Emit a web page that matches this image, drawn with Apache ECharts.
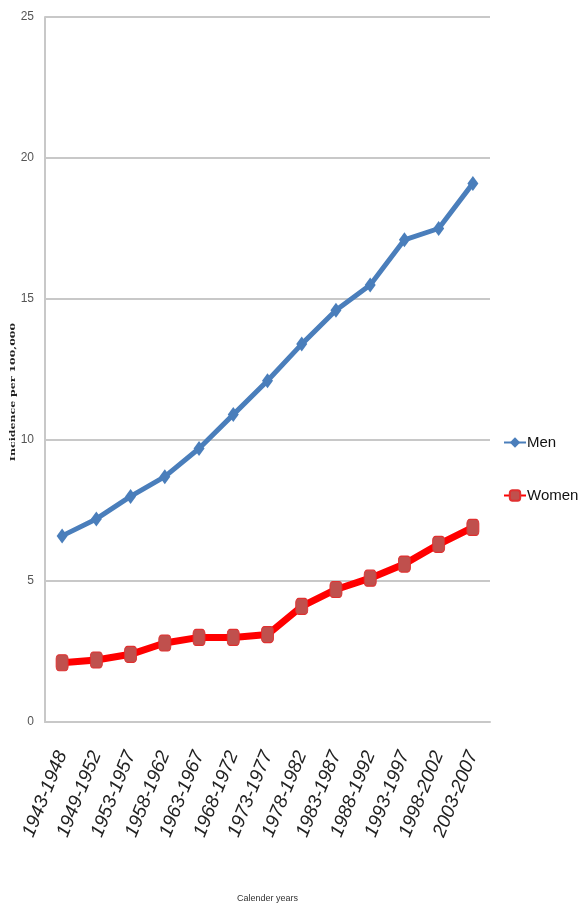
<!DOCTYPE html>
<html>
<head>
<meta charset="utf-8">
<script src="https://cdn.jsdelivr.net/npm/echarts@6/dist/echarts.min.js"></script>
<style>
  html, body { margin: 0; padding: 0; background: #fff; }
  #chart { width: 579px; height: 908px; }
</style>
</head>
<body>
<div id="chart"></div>
<script>
// Five-year calendar periods
const periods = ['1943-1948', '1949-1952', '1953-1957', '1958-1962', '1963-1967', '1968-1972',
  '1973-1977', '1978-1982', '1983-1987', '1988-1992', '1993-1997', '1998-2002', '2003-2007'];

// Incidence per 100,000
const men = [6.6, 7.2, 8.0, 8.7, 9.7, 10.9, 12.1, 13.4, 14.6, 15.5, 17.1, 17.5, 19.1];
const women = [2.1, 2.2, 2.4, 2.8, 3.0, 3.0, 3.1, 4.1, 4.7, 5.1, 5.6, 6.3, 6.9];

const yTicks = [0, 5, 10, 15, 20, 25];

const sans = '"Liberation Sans", Arial, sans-serif';

const chart = echarts.init(document.getElementById('chart'));
chart.setOption({
  animation: false,
  backgroundColor: '#ffffff',
  grid: { left: 45, right: 89, top: 17, bottom: 186, containLabel: false, outerBoundsMode: 'none' },
  legend: {
    orient: 'vertical',
    left: 498,
    top: 430,
    itemGap: 38,
    itemWidth: 22,
    itemHeight: 13,
    textStyle: { fontFamily: sans, fontSize: 15, color: '#111', padding: [0, 0, 0, -4] },
    data: ['Men', 'Women']
  },
  // vertical axis title, drawn thin and tall
  graphic: [{
    type: 'text',
    x: 13,
    y: 392,
    rotation: Math.PI / 2,
    scaleY: 0.7,
    style: {
      text: 'Incidence per 100,000',
      font: 'bold 11px "DejaVu Serif", serif',
      fill: '#222',
      align: 'center',
      verticalAlign: 'middle'
    }
  }],
  xAxis: {
    type: 'category',
    data: periods,
    boundaryGap: true,
    name: 'Calender years',
    nameLocation: 'middle',
    nameGap: 172,
    nameTextStyle: { fontFamily: sans, fontSize: 9, color: '#333' },
    axisLine: { lineStyle: { color: '#c8c8c8', width: 2 } },
    axisTick: { alignWithLabel: false, length: 7, lineStyle: { color: '#c8c8c8', width: 1.5 } },
    axisLabel: {
      rotate: 68,
      interval: 0,
      margin: 30,
      fontFamily: sans,
      fontStyle: 'italic',
      fontSize: 19,
      color: '#222'
    }
  },
  yAxis: {
    type: 'value',
    min: 0,
    max: 25,
    interval: 5,
    axisLine: { show: true, lineStyle: { color: '#c8c8c8', width: 2 } },
    axisTick: { show: false },
    axisLabel: {
      margin: 11,
      fontFamily: sans,
      fontSize: 12,
      color: '#555',
      formatter: v => (yTicks.includes(v) ? String(v) : '')
    },
    splitLine: { lineStyle: { color: '#c8c8c8', width: 2 } }
  },
  series: [
    {
      name: 'Men',
      type: 'line',
      data: men,
      symbol: 'diamond',
      symbolSize: [11, 15],
      lineStyle: { color: '#4a7ebb', width: 5 },
      itemStyle: { color: '#4a7ebb' }
    },
    {
      name: 'Women',
      type: 'line',
      data: women,
      symbol: 'roundRect',
      symbolSize: [12, 16],
      lineStyle: { color: '#ff0000', width: 7 },
      itemStyle: { color: '#c0504d', borderColor: '#e03030', borderWidth: 1 }
    }
  ]
});
</script>
</body>
</html>
